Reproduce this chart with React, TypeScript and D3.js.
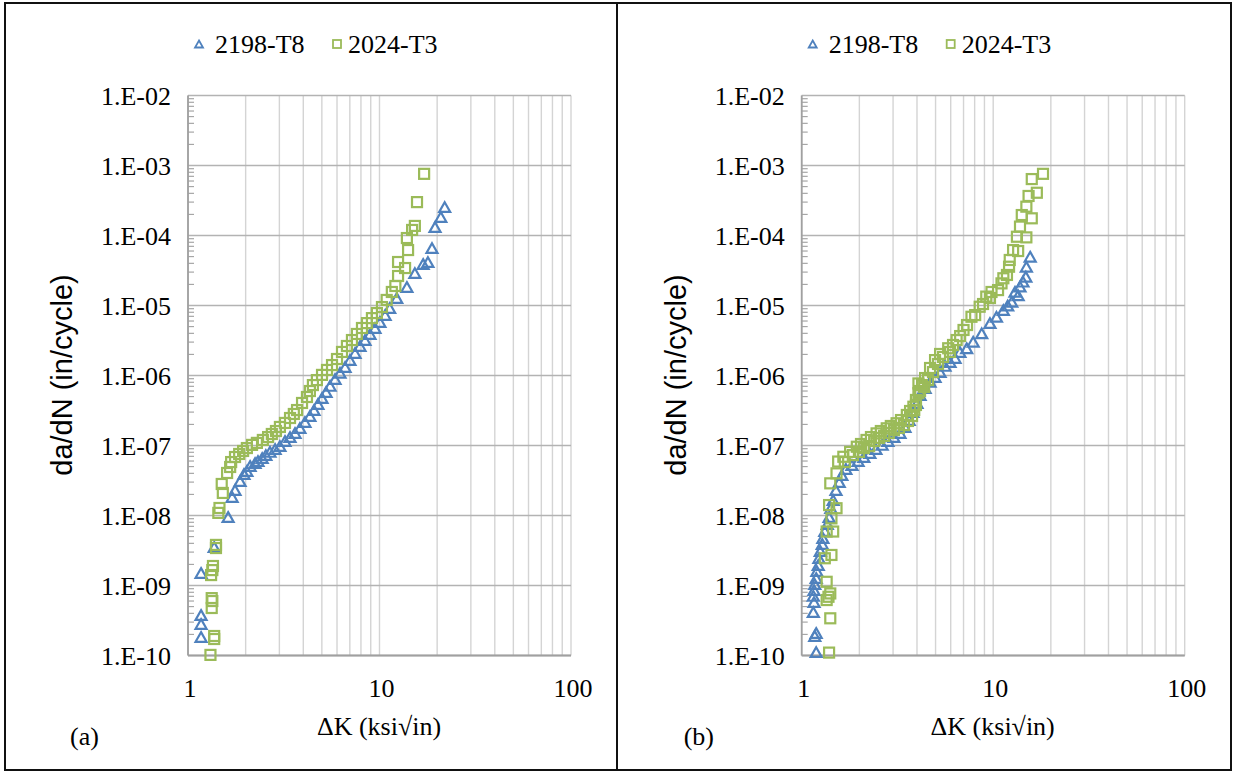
import React from "react";
import * as d3 from "d3";

// Fatigue crack growth rate data, [ΔK (ksi√in), da/dN (in/cycle)]
const seriesNames = ["2198-T8", "2024-T3"];
const xTicks = [1, 10, 100];
const yTicks = [1e-10, 1e-9, 1e-8, 1e-7, 1e-6, 1e-5, 1e-4, 1e-3, 1e-2];

const a2198: [number, number][] = [
  [1.17, 1.84e-10], [1.17, 2.82e-10], [1.17, 3.79e-10], [1.17, 1.51e-9], [1.37, 3.55e-9],
  [1.62, 9.52e-9], [1.7, 1.84e-8], [1.76, 2.31e-8], [1.87, 3.11e-8], [1.96, 3.92e-8],
  [2.03, 4.32e-8], [2.11, 5.1e-8], [2.24, 5.6e-8], [2.32, 6.0e-8], [2.44, 6.6e-8],
  [2.55, 7.3e-8], [2.68, 8.1e-8], [2.85, 8.9e-8], [3.02, 9.8e-8], [3.21, 1.16e-7],
  [3.41, 1.32e-7], [3.62, 1.51e-7], [3.84, 1.78e-7], [4.08, 2.17e-7], [4.33, 2.64e-7],
  [4.55, 3.21e-7], [4.77, 3.92e-7], [5.01, 4.77e-7], [5.26, 5.8e-7], [5.52, 7.1e-7],
  [5.86, 8.9e-7], [6.22, 1.09e-6], [6.61, 1.32e-6], [7.01, 1.66e-6], [7.45, 2.1e-6],
  [7.91, 2.64e-6], [8.4, 3.21e-6], [8.92, 3.92e-6], [9.47, 4.77e-6], [10.05, 5.8e-6],
  [10.7, 7.3e-6], [11.3, 9.2e-6], [12.3, 1.28e-5], [13.9, 1.84e-5], [15.3, 2.91e-5],
  [16.9, 3.92e-5], [17.9, 4.18e-5], [18.8, 6.6e-5], [19.5, 1.32e-4], [20.9, 1.84e-4],
  [21.9, 2.55e-4],
];

const a2024: [number, number][] = [
  [1.31, 1.02e-10], [1.37, 1.72e-10], [1.37, 1.9e-10], [1.33, 4.77e-10], [1.34, 6.0e-10],
  [1.33, 6.6e-10], [1.32, 1.41e-9], [1.34, 1.66e-9], [1.35, 1.9e-9], [1.4, 3.43e-9],
  [1.4, 3.8e-9], [1.44, 1.09e-8], [1.46, 1.28e-8], [1.52, 2.1e-8], [1.5, 2.82e-8],
  [1.6, 4.05e-8], [1.66, 4.93e-8], [1.68, 5.8e-8], [1.76, 6.85e-8], [1.85, 7.57e-8],
  [1.94, 8.35e-8], [2.03, 9.2e-8], [2.16, 1.02e-7], [2.29, 1.09e-7], [2.46, 1.2e-7],
  [2.62, 1.32e-7], [2.74, 1.46e-7], [2.88, 1.61e-7], [3.02, 1.84e-7], [3.21, 2.1e-7],
  [3.41, 2.47e-7], [3.57, 2.82e-7], [3.71, 3.21e-7], [3.94, 4.05e-7], [4.18, 4.93e-7],
  [4.33, 6.0e-7], [4.49, 7.3e-7], [4.71, 8.6e-7], [5.01, 1.02e-6], [5.32, 1.2e-6],
  [5.65, 1.41e-6], [6.0, 1.72e-6], [6.37, 2.17e-6], [6.76, 2.64e-6], [7.18, 3.21e-6],
  [7.62, 3.92e-6], [8.1, 4.77e-6], [8.6, 5.6e-6], [9.13, 6.6e-6], [9.69, 7.8e-6],
  [10.3, 9.5e-6], [10.9, 1.2e-5], [11.6, 1.56e-5], [12.1, 1.9e-5], [12.5, 2.64e-5],
  [12.5, 4.18e-5], [13.6, 3.43e-5], [14.1, 6.2e-5], [13.9, 9.2e-5], [14.8, 1.2e-4],
  [15.3, 1.37e-4], [15.7, 3.0e-4], [17.1, 7.6e-4],
];

const b2198: [number, number][] = [
  [1.19, 1.12e-10], [1.17, 1.9e-10], [1.19, 2.1e-10], [1.15, 4.18e-10], [1.16, 5.8e-10],
  [1.15, 7.1e-10], [1.16, 8.6e-10], [1.17, 1.05e-9], [1.19, 1.28e-9], [1.2, 1.61e-9],
  [1.22, 1.96e-9], [1.23, 2.47e-9], [1.25, 3.11e-9], [1.28, 3.92e-9], [1.29, 4.77e-9],
  [1.32, 6.0e-9], [1.36, 7.57e-9], [1.39, 9.52e-9], [1.42, 1.28e-8], [1.46, 1.66e-8],
  [1.51, 2.31e-8], [1.57, 3.01e-8], [1.62, 3.79e-8], [1.7, 4.62e-8], [1.83, 5.26e-8],
  [1.97, 6.0e-8], [2.11, 6.85e-8], [2.27, 7.8e-8], [2.44, 8.9e-8], [2.63, 1.02e-7],
  [2.82, 1.16e-7], [3.03, 1.32e-7], [3.26, 1.51e-7], [3.46, 1.84e-7], [3.64, 2.31e-7],
  [3.81, 3.01e-7], [4.0, 4.05e-7], [4.15, 5.26e-7], [4.41, 6.6e-7], [4.68, 8.1e-7],
  [4.97, 9.5e-7], [5.28, 1.12e-6], [5.6, 1.37e-6], [5.95, 1.56e-6], [6.32, 1.78e-6],
  [6.7, 2.17e-6], [7.27, 2.45e-6], [7.86, 3.04e-6], [8.71, 4.0e-6], [9.62, 5.6e-6],
  [10.4, 6.9e-6], [11.3, 8.6e-6], [11.9, 1.0e-5], [12.5, 1.13e-5], [13.0, 1.57e-5],
  [13.5, 1.4e-5], [13.8, 1.86e-5], [14.3, 2.19e-5], [14.8, 2.58e-5], [14.9, 3.58e-5],
  [15.6, 4.98e-5],
];

const b2024: [number, number][] = [
  [1.39, 1.1e-10], [1.41, 3.4e-10], [1.35, 6.2e-10], [1.38, 6.9e-10], [1.41, 7.7e-10],
  [1.35, 1.13e-9], [1.32, 2.45e-9], [1.43, 2.73e-9], [1.35, 5.9e-9], [1.46, 5.9e-9],
  [1.43, 9.1e-9], [1.39, 1.41e-8], [1.52, 1.27e-8], [1.41, 2.88e-8], [1.52, 4.0e-8],
  [1.55, 5.9e-8], [1.65, 6.9e-8], [1.68, 5.8e-8], [1.79, 8.1e-8], [1.85, 7.3e-8],
  [1.94, 9.6e-8], [1.99, 8.1e-8], [2.04, 1.05e-7], [2.11, 9.2e-8], [2.18, 1.2e-7],
  [2.25, 9.8e-8], [2.3, 1.32e-7], [2.39, 1.16e-7], [2.46, 1.49e-7], [2.53, 1.28e-7],
  [2.59, 1.61e-7], [2.69, 1.37e-7], [2.78, 1.76e-7], [2.85, 1.51e-7], [2.92, 1.9e-7],
  [3.03, 1.66e-7], [3.13, 2.08e-7], [3.22, 1.78e-7], [3.3, 2.31e-7], [3.42, 1.96e-7],
  [3.54, 2.73e-7], [3.59, 2.24e-7], [3.68, 3.11e-7], [3.77, 2.64e-7], [3.83, 3.58e-7],
  [3.87, 3.21e-7], [3.95, 4.47e-7], [3.95, 3.79e-7], [4.07, 5.6e-7], [4.07, 7.7e-7],
  [4.15, 6.0e-7], [4.25, 7.3e-7], [4.36, 6.85e-7], [4.41, 9.2e-7], [4.57, 8.6e-7],
  [4.68, 1.28e-6], [4.85, 1.12e-6], [4.97, 1.66e-6], [5.15, 1.46e-6], [5.28, 2.03e-6],
  [5.47, 1.84e-6], [5.82, 2.45e-6], [5.95, 2.17e-6], [6.17, 2.73e-6], [6.44, 3.21e-6],
  [6.72, 3.66e-6], [7.0, 4.47e-6], [7.3, 5.26e-6], [7.7, 6.9e-6], [8.05, 7.3e-6],
  [8.5, 9.6e-6], [8.85, 1.05e-5], [9.2, 1.34e-5], [9.62, 1.28e-5], [9.8, 1.56e-5],
  [10.6, 1.66e-5], [11.05, 2.07e-5], [11.3, 2.45e-5], [11.8, 2.73e-5], [12.1, 3.58e-5],
  [12.2, 4.47e-5], [12.7, 6.2e-5], [13.5, 6.0e-5], [13.3, 9.6e-5], [14.9, 9.4e-5],
  [13.8, 1.34e-4], [14.1, 1.96e-4], [15.9, 1.76e-4], [14.9, 2.58e-4], [15.3, 3.67e-4],
  [16.9, 4.08e-4], [15.9, 6.4e-4], [18.2, 7.6e-4],
];

const BLUE = "#4f81bd";
const GREEN = "#9bbb59";
const SERIF = "'Liberation Serif', 'Times New Roman', serif";
const SANS = "'Liberation Sans', Arial, sans-serif";

const W = 1233;
const H = 773;

function fmtExp(v: number) {
  const e = Math.round(Math.log10(v));
  const s = Math.abs(e).toString().padStart(2, "0");
  return `1.E${e < 0 ? "-" : "+"}${s}`;
}

function triPath(cx: number, cy: number, s: number) {
  const h = s * 0.88;
  return `M${cx},${cy - h / 2}L${cx + s / 2},${cy + h / 2}L${cx - s / 2},${cy + h / 2}Z`;
}

type PanelProps = {
  left: number;
  label: string;
  t8: [number, number][];
  t3: [number, number][];
};

function Panel({ left, label, t8, t3 }: PanelProps) {
  const plotTop = 95.5;
  const plotBottom = 655.5;
  const plotW = 383;
  const x = d3.scaleLog().domain([1, 100]).range([left, left + plotW]);
  const y = d3.scaleLog().domain([1e-10, 1e-2]).range([plotBottom, plotTop]);

  const xGrid: number[] = [];
  for (let d = 1; d < 100; d *= 10) for (let m = 1; m <= 10; m++) xGrid.push(d * m);
  const minorY: number[] = [];
  for (let e = -10; e < -2; e++) for (let m = 2; m <= 9; m++) minorY.push(m * Math.pow(10, e));

  const legendY = 44;
  const lx = left + 11;

  return (
    <g>
      {/* vertical grid */}
      {Array.from(new Set(xGrid)).map((v) => (
        <line key={`vx${v}`} x1={x(v)} x2={x(v)} y1={plotTop} y2={plotBottom}
          stroke="#d4d4d4" strokeWidth={1.4} />
      ))}
      {/* horizontal decade grid */}
      {yTicks.map((v) => (
        <line key={`hy${v}`} x1={left} x2={left + plotW} y1={y(v)} y2={y(v)}
          stroke="#b3b3b3" strokeWidth={1.4} />
      ))}
      {/* minor ticks on the y axis */}
      {minorY.map((v, i) => (
        <line key={`my${i}`} x1={left} x2={left + 6} y1={y(v)} y2={y(v)}
          stroke="#a6a6a6" strokeWidth={1.2} />
      ))}
      {/* axes */}
      <line x1={left} x2={left} y1={plotTop} y2={plotBottom} stroke="#a0a0a0" strokeWidth={1.8} />
      <line x1={left} x2={left + plotW} y1={plotBottom} y2={plotBottom} stroke="#a0a0a0" strokeWidth={1.8} />

      {/* y tick labels */}
      {yTicks.map((v) => (
        <text key={`ty${v}`} x={left - 17} y={y(v)} dy="0.35em" textAnchor="end"
          fontFamily={SERIF} fontSize={26} fill="#000">{fmtExp(v)}</text>
      ))}
      {/* x tick labels */}
      {xTicks.map((v) => (
        <text key={`tx${v}`} x={x(v) + 2} y={688} dy="0.35em" textAnchor="middle"
          fontFamily={SERIF} fontSize={26} fill="#000">{v}</text>
      ))}

      {/* titles */}
      <text x={left + 191} y={726} dy="0.35em" textAnchor="middle" fontFamily={SERIF}
        fontSize={26} fill="#000">ΔK (ksi√in)</text>
      <text transform={`translate(${left - 126},${375}) rotate(-90)`} textAnchor="middle"
        dy="0.35em" fontFamily={SANS} fontSize={29} fill="#000">
        da/dN (in/cycle)
      </text>
      <text x={left - 118} y={736} dy="0.35em" fontFamily={SERIF} fontSize={26} fill="#000">{label}</text>

      {/* data */}
      {t8.map(([k, r], i) => (
        <path key={`t8${i}`} d={triPath(x(k), y(r), 11)} fill="none" stroke={BLUE} strokeWidth={2.2} />
      ))}
      {t3.map(([k, r], i) => (
        <rect key={`t3${i}`} x={x(k) - 5} y={y(r) - 5} width={10} height={10} fill="none"
          stroke={GREEN} strokeWidth={2.2} />
      ))}

      {/* legend */}
      <path d={triPath(lx, legendY, 8)} fill="none" stroke={BLUE} strokeWidth={1.8} />
      <text x={lx + 16} y={legendY} dy="0.35em" fontFamily={SERIF} fontSize={26} fill="#000">{seriesNames[0]}</text>
      <rect x={lx + 134} y={legendY - 4} width={8} height={8} fill="none" stroke={GREEN} strokeWidth={1.8} />
      <text x={lx + 149} y={legendY} dy="0.35em" fontFamily={SERIF} fontSize={26} fill="#000">{seriesNames[1]}</text>
    </g>
  );
}

export default function App() {
  return (
    <svg width={W} height={H} style={{ position: "absolute", left: 0, top: 0, background: "#fff" }}>
      <rect x={0} y={0} width={W} height={H} fill="#fff" />
      <Panel left={188} label="(a)" t8={a2198} t3={a2024} />
      <Panel left={801.7} label="(b)" t8={b2198} t3={b2024} />
      {/* frame */}
      <rect x={5} y={3} width={W - 7} height={767} fill="none" stroke="#111" strokeWidth={2} />
      <line x1={617} x2={617} y1={3} y2={770} stroke="#111" strokeWidth={2} />
    </svg>
  );
}
